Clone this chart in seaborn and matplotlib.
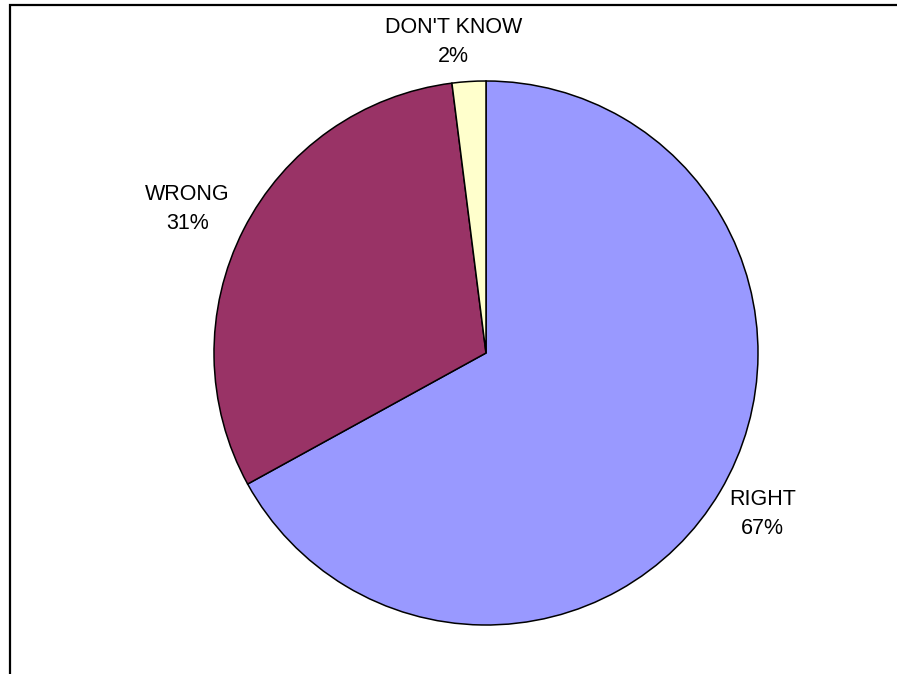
import matplotlib
matplotlib.use("Agg")
import matplotlib.pyplot as plt
from matplotlib.patches import Rectangle
import seaborn as sns

# data
answers = ["RIGHT", "WRONG", "DON'T KNOW"]
shares = [67, 31, 2]
colors = ["#9999FF", "#993366", "#FFFFCC"]

sns.set_theme(style="white")
plt.rcParams['font.family'] = ['Liberation Sans', 'DejaVu Sans']

W, H = 897, 674
fig = plt.figure(figsize=(W / 100, H / 100), dpi=100)
fig.patch.set_facecolor("white")

# pie centre (486, 353) px, radius 272 px
cx, cy, r = 486, 353, 272
ax = fig.add_axes([(cx - r) / W, (H - cy - r) / H, 2 * r / W, 2 * r / H])

labels = [f"{a}\n{s}%" for a, s in zip(answers, shares)]
wedges, texts = ax.pie(shares, colors=colors, startangle=90, counterclock=False,
                       labels=labels, labeldistance=1.18,
                       wedgeprops=dict(edgecolor="black", linewidth=1.1),
                       textprops=dict(fontsize=15.5, color="black"))
for t in texts:
    t.set_ha("center")
    t.set_va("center")
    t.set_multialignment("center")
    t.set_linespacing(1.5)

# small nudges so labels sit where the original put them
x, y = texts[0].get_position()
texts[0].set_position((x, y + 0.01))
x, y = texts[1].get_position()
texts[1].set_position((x * 1.045, y * 0.99))
x, y = texts[2].get_position()
texts[2].set_position((x - 0.045, y - 0.035))

ax.set_xlim(-1, 1)
ax.set_ylim(-1, 1)
ax.axis("off")

# chart-area frame (only left and top edges fall inside the image)
fig.patches.append(Rectangle((10 / W, -0.1), 1.2, (H - 5) / H + 0.1, transform=fig.transFigure,
                             fill=False, edgecolor="black", linewidth=1.6, figure=fig))

fig.savefig("out.png", dpi=100, facecolor="white")
